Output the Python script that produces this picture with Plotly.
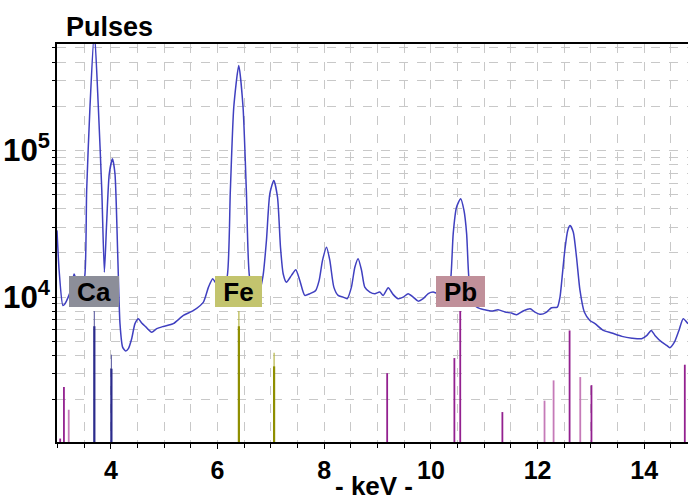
import plotly.graph_objects as go

# ---- XRF spectrum (energy in keV, counts) ----
energy_kev = [
    2.99, 3.03, 3.10, 3.14, 3.20, 3.265, 3.31, 3.37, 3.45, 3.51, 3.546, 3.608,
    3.69, 3.765, 3.83, 3.878, 3.92, 3.97, 4.03, 4.077, 4.128, 4.171, 4.22,
    4.278, 4.328, 4.39, 4.452, 4.516, 4.578, 4.66, 4.765, 4.86, 4.985, 5.17,
    5.36, 5.55, 5.735, 5.83, 5.91, 5.97, 6.05, 6.12, 6.178, 6.24, 6.304,
    6.398, 6.478, 6.54, 6.60, 6.70, 6.80, 6.854, 6.917, 6.98, 7.054, 7.124,
    7.18, 7.23, 7.29, 7.386, 7.467, 7.542, 7.636, 7.73, 7.84, 7.905, 7.968,
    8.043, 8.105, 8.18, 8.26, 8.355, 8.43, 8.51, 8.574, 8.636, 8.70, 8.76,
    8.855, 8.95, 9.04, 9.105, 9.20, 9.29, 9.386, 9.48, 9.574, 9.668, 9.76,
    9.855, 9.95, 10.04, 10.15, 10.25, 10.33, 10.375, 10.418, 10.48, 10.557,
    10.62, 10.67, 10.71, 10.78, 10.85, 10.92, 11.01, 11.14, 11.26, 11.39,
    11.51, 11.61, 11.73, 11.86, 11.95, 12.06, 12.17, 12.26, 12.37, 12.42,
    12.46, 12.51, 12.565, 12.61, 12.67, 12.73, 12.795, 12.876, 12.98, 13.077,
    13.23, 13.39, 13.58, 13.77, 13.95, 14.05, 14.13, 14.20, 14.33, 14.42,
    14.48, 14.565, 14.65, 14.73, 14.82,
]
pulses = [
    28500, 15200, 8770, 9020, 10000, 11700, 14400, 12650, 12000, 13900, 53300, 197000,
    650000, 197000, 53300, 14800, 31700, 69300, 87700, 69300, 19760, 6590, 4560,
    4290, 4450, 5200, 6590, 7130, 6650, 6240, 5770, 6090, 6310, 6590,
    7500, 8110, 9250, 11700, 13340, 12450, 12500, 12800, 13700, 53300, 197000,
    380000, 197000, 53300, 13700, 10500, 11500, 14060, 24400, 50700, 62500, 48100,
    21900, 14440, 12650, 14060, 15380, 13000, 10270, 10550, 11100, 13000, 17800,
    21900, 17800, 11700, 10270, 10000, 9750, 11700, 16000, 18300, 15200, 11700,
    10820, 10550, 10820, 10270, 11590, 10440, 9750, 10000, 10550, 10000, 9390,
    9750, 10550, 10820, 10500, 10800, 11500, 13840, 27000, 41000, 46900,
    39000, 27000, 13840, 9500, 8600, 8340, 8200, 8040, 8200, 7910,
    7780, 7590, 8040, 8340, 7910, 7630, 7910, 8470, 8550, 10000,
    13700, 20800, 28500, 30800, 27700, 18700, 11100, 7910, 6930, 6590,
    5930, 5690, 5400, 5250, 5200, 5480, 5930, 5480, 4930, 4690,
    4520, 4930, 5930, 7130, 6590,
]

# ---- element emission lines (energy keV, relative line height) ----
ca_kev = [3.69, 4.01]
ca_top = [8040, 4050]
ca_base = [6340, 3250]

fe_kev = [6.40, 7.06]
fe_top = [8040, 4180]
fe_base = [6340, 3370]

pb_kev = [3.05, 3.12, 9.18, 10.44, 10.55, 11.34, 12.60, 13.01, 14.76]
pb_height = [1085, 2440, 3030, 3840, 8040, 1645, 5930, 2510, 3460]
pb_weak_kev = [3.21, 12.13, 12.30, 12.80]
pb_weak_height = [1706, 1967, 2705, 2850]

elements = ["Ca", "Fe", "Pb"]
element_kev = [3.69, 6.40, 10.55]
element_colors = ["#8c8e99", "#c3c46e", "#c0909a"]
element_box_width = [46, 43, 45]

LINE_FLOOR = 100  # below the axis range so every stick starts at the baseline


def sticks(xs, hs):
    px, py = [], []
    for x, h in zip(xs, hs):
        px += [x, x, None]
        py += [LINE_FLOOR, h, None]
    return px, py


fig = go.Figure()


def add_sticks(xs, hs, color, width):
    px, py = sticks(xs, hs)
    fig.add_trace(go.Scatter(x=px, y=py, mode="lines", hoverinfo="skip",
                             line=dict(color=color, width=width), showlegend=False))


add_sticks(ca_kev, ca_top, "#6a6aa8", 1.2)
add_sticks(ca_kev, ca_base, "#2b2b8c", 2.2)
add_sticks(fe_kev, fe_top, "#b5b545", 1.2)
add_sticks(fe_kev, fe_base, "#8f8f00", 2.2)
add_sticks(pb_weak_kev, pb_weak_height, "#c57ab8", 1.8)
add_sticks(pb_kev, pb_height, "#93208f", 1.8)

fig.add_trace(go.Scatter(
    x=energy_kev, y=pulses, mode="lines", showlegend=False,
    line=dict(color="#4040c0", width=1.5, shape="spline", smoothing=0.6),
))

font_family = "Liberation Sans, Arial, sans-serif"
grid_color = "#c8c8c8"

for name, kev, color, w in zip(elements, element_kev, element_colors, element_box_width):
    fig.add_annotation(
        x=kev, y=4.0375, xref="x", yref="y", text=name, showarrow=False,
        bgcolor=color, borderwidth=0, borderpad=2, width=w, height=27,
        font=dict(family=font_family, size=26, color="black", weight="bold"),
    )

fig.add_annotation(
    x=(64 - 57) / 631, y=1 + (44 - 27) / 398, xref="paper", yref="paper",
    xanchor="left", yanchor="middle", text="Pulses", showarrow=False,
    font=dict(family=font_family, size=27, color="black", weight="bold"),
)
fig.add_annotation(
    x=(374 - 57) / 631, y=-(501 - 441.7) / 398.2, xref="paper", yref="paper",
    xanchor="center", yanchor="bottom", text="-\u00a0keV\u00a0-", showarrow=False,
    borderpad=0, borderwidth=0,
    font=dict(family=font_family, size=26, color="black", weight="bold"),
)

fig.update_layout(
    width=688, height=502,
    margin=dict(l=57, r=0, t=44, b=60),
    paper_bgcolor="white", plot_bgcolor="white",
    xaxis=dict(
        range=[2.99, 14.82], tick0=0, dtick=2,
        showgrid=True, gridcolor=grid_color, griddash="dash", gridwidth=1,
        minor=dict(dtick=0.5, showgrid=True, gridcolor=grid_color,
                   griddash="dash", ticks="outside", ticklen=4,
                   tickcolor="black"),
        ticks="outside", ticklen=5, tickcolor="black",
        showline=True, linecolor="black", linewidth=2, mirror=True,
        zeroline=False,
        tickfont=dict(family=font_family, size=25, color="black", weight="bold"),
    ),
    yaxis=dict(
        type="log", range=[3.012, 5.726], dtick=1, exponentformat="power",
        showgrid=True, gridcolor=grid_color, griddash="dash", gridwidth=1,
        minor=dict(dtick="D1", showgrid=True, gridcolor=grid_color,
                   griddash="dash", ticks="outside", ticklen=3,
                   tickcolor="black"),
        ticks="outside", ticklen=3, tickcolor="black", ticklabelstandoff=-3,
        showline=True, linecolor="black", linewidth=2,
        zeroline=False,
        tickfont=dict(family=font_family, size=25, color="black", weight="bold"),
    ),
)

fig.write_html("out.html")
